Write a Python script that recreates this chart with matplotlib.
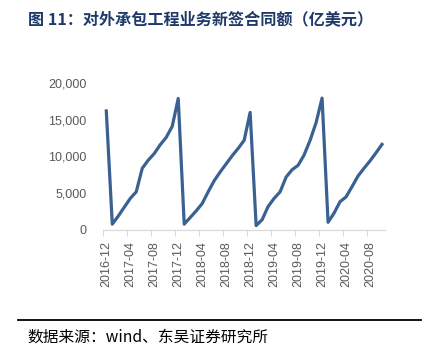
import matplotlib
matplotlib.use("Agg")
import matplotlib.pyplot as plt
import numpy as np

plt.rcParams['font.family'] = ['Liberation Sans', 'Noto Sans CJK SC', 'DejaVu Sans']

# monthly cumulative new contract value, 2016-12 .. 2020-10
months = [f"{y}-{m:02d}" for y, m in
          [(2016, 12)] + [(y, m) for y in (2017, 2018, 2019) for m in range(1, 13)]
          + [(2020, m) for m in range(1, 11)]]
values = [16200,
          800, 1900, 3100, 4300, 5200, 8400, 9500, 10400, 11600, 12600, 14100, 17900,
          800, 1700, 2600, 3600, 5200, 6700, 7900, 9000, 10100, 11100, 12200, 16000,
          600, 1400, 3200, 4300, 5200, 7200, 8200, 8800, 10200, 12200, 14600, 17950,
          1050, 2300, 3850, 4500, 5900, 7350, 8400, 9400, 10500, 11650]
yticks = [0, 5000, 10000, 15000, 20000]

title = "图 11：对外承包工程业务新签合同额（亿美元）"
source = "数据来源：wind、东吴证券研究所"

W, H = 428, 358
fig = plt.figure(figsize=(W / 100, H / 100), dpi=100)
ax = fig.add_axes([103.3 / W, 1 - 230 / H, (385 - 103.3) / W, 147 / H])

x = np.arange(len(values))
ax.plot(x, values, color='#3a6192', lw=2.3, solid_joinstyle='round')

ax.set_xlim(-0.5, len(values) - 0.5)
ax.set_ylim(0, 20000)
ax.set_yticks(yticks)
ax.set_yticklabels([f"{v:,}" for v in yticks])
ax.tick_params(axis='y', length=0, pad=12, labelsize=9, labelcolor='#595959')

lab_idx = np.arange(0, len(values), 4)
ax.set_xticks(lab_idx)
ax.set_xticklabels([months[i] for i in lab_idx], rotation=90)
ax.tick_params(axis='x', which='major', length=0, pad=8, labelsize=9, labelcolor='#595959')
ax.set_xticks(lab_idx - 0.5, minor=True)
ax.tick_params(axis='x', which='minor', length=4, width=0.8, color='#d9d9d9', direction='out')

for s in ['top', 'right', 'left']:
    ax.spines[s].set_visible(False)
ax.spines['bottom'].set_color('#d9d9d9')
ax.spines['bottom'].set_linewidth(0.9)

fig.text(28 / W, 1 - 19 / H, title, fontsize=11.6, fontweight='bold', color='#1f3a6a',
         family=['Noto Sans CJK SC', 'DejaVu Sans'], va='center', ha='left')
fig.add_artist(plt.Line2D([18 / W, 421 / W], [1 - 320 / H, 1 - 320 / H], color='black', lw=1.3))
fig.text(27 / W, 1 - 337 / H, source, fontsize=11.3, color='black',
         family=['Noto Sans CJK SC', 'DejaVu Sans'], va='center', ha='left')

fig.savefig("out.png", dpi=100)
